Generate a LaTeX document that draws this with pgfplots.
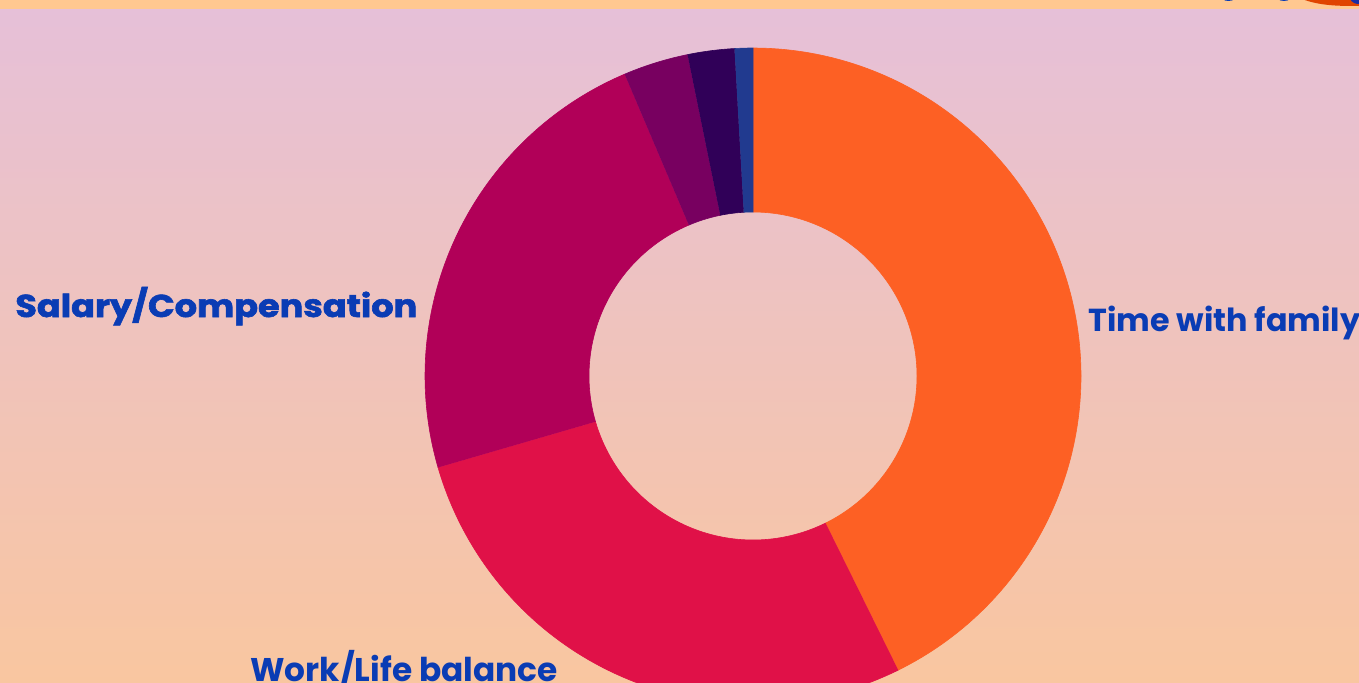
\documentclass[border=0pt]{standalone}
\usepackage{pgfplots}
\pgfplotsset{compat=1.18}
\usepackage{fontspec}
\setmainfont{Poppins}
\newfontfamily\heavyfont[FakeBold=1.8]{Poppins}
\definecolor{strip}{HTML}{FFC890}
\definecolor{bgtop}{HTML}{E6C0D8}
\definecolor{bgbot}{HTML}{F9C6A0}
\definecolor{cOrange}{HTML}{FD6024}
\definecolor{cRed}{HTML}{E01148}
\definecolor{cMagenta}{HTML}{B10058}
\definecolor{cPurple}{HTML}{780060}
\definecolor{cDark}{HTML}{300058}
\definecolor{cBlue}{HTML}{213A8F}
\definecolor{txt}{HTML}{0A3CB4}
\definecolor{decoOr}{HTML}{E04400}
% slice: colour, start percent, end percent
\newcommand{\slice}[3]{%
  \addplot[fill=#1, draw=#1, line width=0.3pt, domain=0:1, samples=301, variable=\t]
  ({753+((\t<0.5)?328:164)*sin(3.6*((\t<0.5)?(#2+(#3-#2)*min(1,\t/0.45)):(#3-(#3-#2)*max(0,min(1,(\t-0.55)/0.45)))))},
   {306+((\t<0.5)?328:164)*cos(3.6*((\t<0.5)?(#2+(#3-#2)*min(1,\t/0.45)):(#3-(#3-#2)*max(0,min(1,(\t-0.55)/0.45)))))});
}
\begin{document}
\begin{tikzpicture}
\useasboundingbox (0,0) rectangle (679.5pt,341pt);
\clip (0,0) rectangle (679.5pt,341pt);
\shade[top color=bgtop, bottom color=bgbot] (0,0) rectangle (679.5pt,336.5pt);
\fill[strip] (0,336.5pt) rectangle (679.5pt,341pt);
% decoration top right
\fill[decoOr] (651pt,341.5pt) .. controls (660pt,338pt) and (670pt,338pt) .. (679.5pt,338pt) -- (679.5pt,341.5pt) -- cycle;
\fill[cBlue!80!blue] (675pt,341.5pt) .. controls (676pt,339.5pt) and (678pt,339pt) .. (679.5pt,339pt) -- (679.5pt,341.5pt) -- cycle;
\fill[txt] (611.5pt,341.5pt) .. controls (612pt,340.2pt) and (616pt,340.2pt) .. (617.5pt,341.5pt) -- cycle;
\fill[txt] (639pt,341.5pt) .. controls (640pt,340.2pt) and (644pt,340.2pt) .. (645pt,341.5pt) -- cycle;
\begin{axis}[at={(0,0)}, anchor=south west, scale only axis,
  x=0.5pt, y=0.5pt, xmin=0, xmax=1359, ymin=0, ymax=682,
  hide axis, clip=true]
\slice{cOrange}{0}{42.7}
\slice{cRed}{42.7}{70.5}
\slice{cMagenta}{70.5}{93.6}
\slice{cPurple}{93.6}{96.8}
\slice{cDark}{96.8}{99.1}
\slice{cBlue}{99.1}{100}
\end{axis}
\node[anchor=base west, inner sep=0pt, text=txt, font=\heavyfont\bfseries\fontsize{15.8}{18}\selectfont] at (7.5pt,182.5pt) {\scalebox{1.11}[1]{Salary/Compensation}};
\node[anchor=base west, inner sep=0pt, text=txt, font=\bfseries\fontsize{15.9}{18}\selectfont] at (544pt,175.5pt) {Time with family};
\node[anchor=base west, inner sep=0pt, text=txt, font=\bfseries\fontsize{16.4}{18}\selectfont] at (125pt,0.5pt) {Work/Life balance};
\end{tikzpicture}
\end{document}
